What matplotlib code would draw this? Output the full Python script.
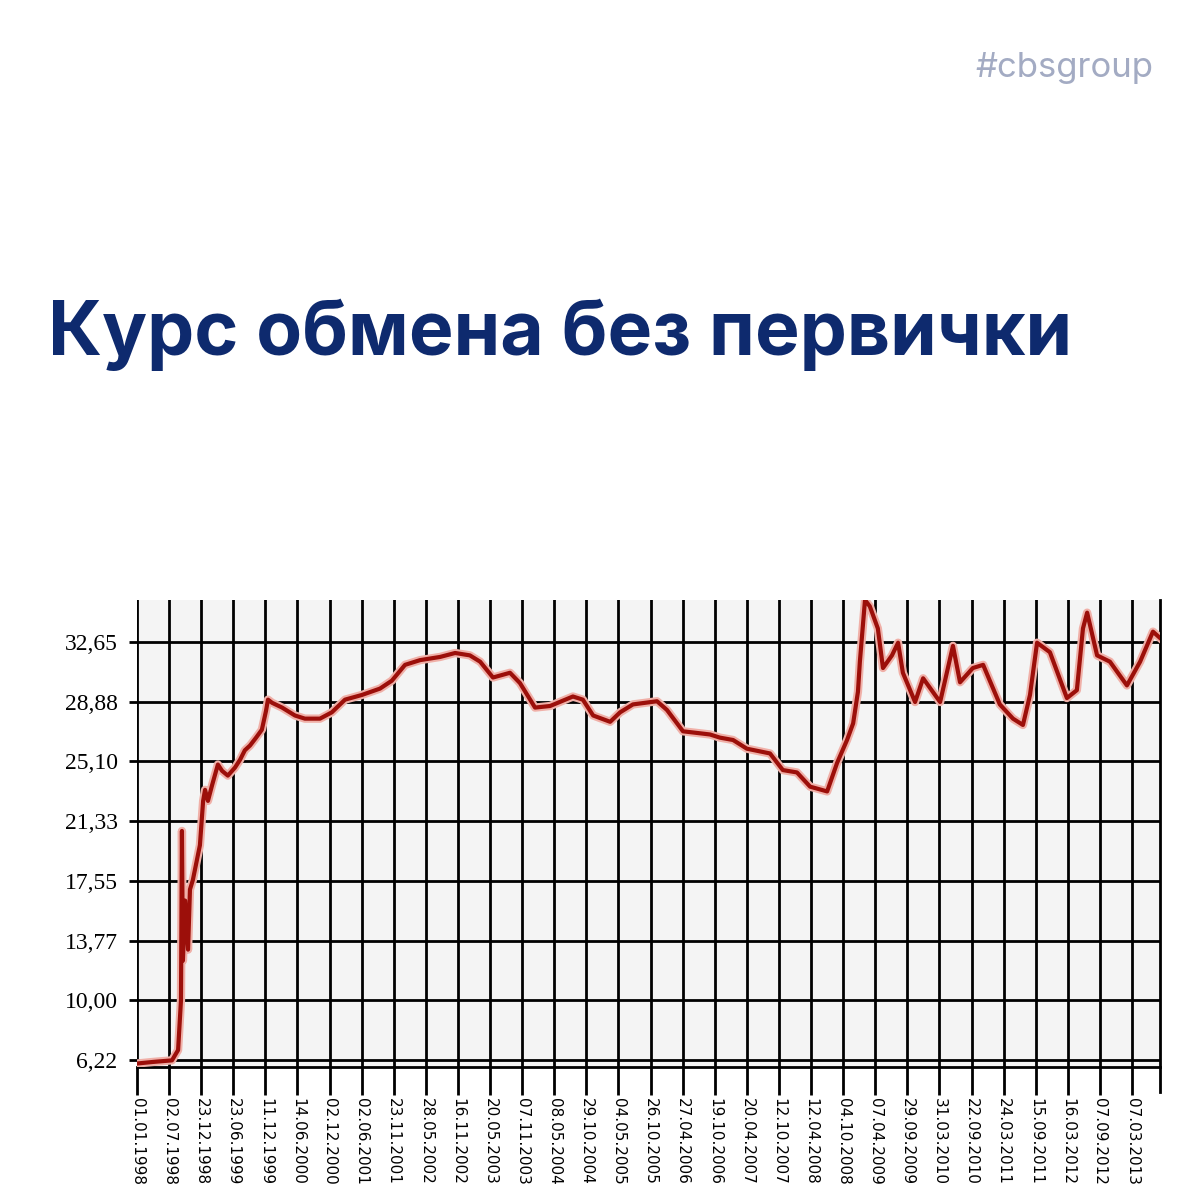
import matplotlib
matplotlib.use("Agg")
import matplotlib.pyplot as plt

dates = ["01.01.1998","02.07.1998","23.12.1998","23.06.1999","11.12.1999","14.06.2000",
         "02.12.2000","02.06.2001","23.11.2001","28.05.2002","16.11.2002","20.05.2003",
         "07.11.2003","08.05.2004","29.10.2004","04.05.2005","26.10.2005","27.04.2006",
         "19.10.2006","20.04.2007","12.10.2007","12.04.2008","04.10.2008","07.04.2009",
         "29.09.2009","31.03.2010","22.09.2010","24.03.2011","15.09.2011","16.03.2012",
         "07.09.2012","07.03.2013"]
yticks = [6.22, 10.00, 13.77, 17.55, 21.33, 25.10, 28.88, 32.65]

# position measured in tick-interval units, rate value
pos = [0, 0.5, 1.09, 1.28, 1.37, 1.40, 1.43, 1.50, 1.59, 1.65, 1.74, 1.87, 1.96, 2.06, 2.12,
       2.21, 2.34, 2.52, 2.65, 2.83, 3.05, 3.21, 3.36, 3.52, 3.71, 3.89, 4.02, 4.08, 4.21,
       4.52, 4.92, 5.23, 5.70, 6.07, 6.48, 7.01, 7.57, 7.94, 8.35, 8.82, 9.44, 9.91, 10.37,
       10.69, 11.09, 11.62, 11.93, 12.40, 12.87, 13.58, 13.89, 14.21, 14.74, 15.05, 15.45,
       16.20, 16.51, 17.01, 17.85, 18.16, 18.57, 19.00, 19.72, 20.12, 20.56, 20.97, 21.50,
       21.81, 22.12, 22.31, 22.46, 22.52, 22.68, 22.83, 23.08, 23.24, 23.52, 23.71, 23.86,
       24.24, 24.49, 25.02, 25.42, 25.64, 26.04, 26.36, 26.88, 27.29, 27.60, 27.82, 28.04,
       28.44, 28.97, 29.28, 29.47, 29.60, 29.91, 30.31, 30.84, 31.25, 31.65, 31.87]
rate = [6.0, 6.1, 6.2, 6.85, 10.0, 20.7, 12.5, 16.3, 13.2, 17.0, 17.6, 18.9, 19.8, 22.6, 23.3,
        22.6, 23.6, 24.9, 24.5, 24.2, 24.7, 25.2, 25.8, 26.1, 26.6, 27.1, 28.3, 29.0, 28.8,
        28.5, 28.0, 27.8, 27.8, 28.2, 29.0, 29.3, 29.7, 30.2, 31.2, 31.5, 31.7, 31.95, 31.8,
        31.4, 30.4, 30.7, 30.05, 28.5, 28.6, 29.2, 29.0, 28.0, 27.6, 28.2, 28.7,
        28.9, 28.35, 27.0, 26.8, 26.6, 26.45, 25.9, 25.6, 24.55, 24.4, 23.5, 23.2,
        25.0, 26.45, 27.5, 29.5, 31.4, 35.3, 34.9, 33.5, 31.0, 31.8, 32.6, 30.7,
        28.85, 30.35, 28.85, 32.4, 30.1, 31.0, 31.2, 28.7, 27.8, 27.4, 29.3, 32.6,
        32.0, 29.1, 29.6, 33.5, 34.5, 31.8, 31.4, 29.9, 31.4, 33.3, 32.9]

fig = plt.figure(figsize=(12, 12), dpi=100)
fig.patch.set_facecolor("white")
fig.text(0.961, 0.943, "#cbsgroup", ha="right", va="center", fontsize=25,
         color="#a3abc3", family="Inter")
fig.text(0.04, 0.721, "Курс обмена без первички", ha="left", va="center",
         fontsize=54, fontweight="bold", color="#0e2a6e", family="Inter")

ax = fig.add_axes([137/1200, 133/1200, (1160-137)/1200, (1067-600)/1200])
ax.set_facecolor("#f4f4f4")
ax.set_xlim(0, 31.87)
ax.set_ylim(5.78, 35.3)
ax.set_xticks(range(len(dates)))
ax.set_xticklabels(dates, rotation=270, fontsize=11, family="DejaVu Sans")
ax.set_yticks(yticks)
ax.set_yticklabels([f"{v:.2f}".replace(".", ",") for v in yticks], fontsize=17,
                   family="Liberation Serif")
ax.grid(True, color="black", linewidth=2)
ax.set_axisbelow(True)
ax.tick_params(axis="x", length=20, width=2, pad=2)
ax.tick_params(axis="y", length=6, width=2, pad=8)
for s in ["top", "left"]:
    ax.spines[s].set_visible(False)
ax.spines["bottom"].set_linewidth(2)
ax.spines["right"].set_linewidth(2)
ax.spines["right"].set_bounds(5.78 - 1.6, 35.3)
ax.spines["right"].set_clip_on(False)
ax.plot(pos, rate, color="#f0b0a8", linewidth=6, solid_joinstyle="round", zorder=3)
ax.plot(pos, rate, color="#9c0f0a", linewidth=3, solid_joinstyle="round", zorder=4)
fig.savefig("out.png", dpi=100)
